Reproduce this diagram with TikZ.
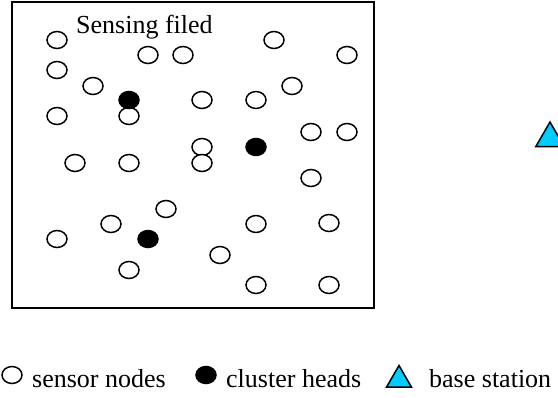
\documentclass[tikz,border=0pt]{standalone}
\usepackage{fontspec}
\setmainfont{Liberation Serif}
\usetikzlibrary{shapes.geometric}
\definecolor{bscyan}{RGB}{0,204,255}
\tikzset{
  sensor/.style={ellipse,draw=black,line width=1.5pt,fill=white,minimum width=20pt,minimum height=17pt,inner sep=0pt},
  head/.style={ellipse,draw=black,line width=1.5pt,fill=black,minimum width=20pt,minimum height=17pt,inner sep=0pt},
  bs/.style={regular polygon,regular polygon sides=3,draw=black,line width=1.5pt,fill=bscyan,inner sep=0pt},
  lbl/.style={anchor=base west,inner sep=0pt,font=\fontsize{26}{30}\selectfont},
  field/.style={draw=black,line width=1.6pt}
}
\begin{document}
\begin{tikzpicture}[x=1pt,y=-1pt]
\useasboundingbox (0,0) rectangle (558,398);
\draw[field] (12,2) rectangle (374,308);
\node[lbl] (title) at (76,34) {Sensing filed};
% sensor nodes
\node[sensor] (s1) at (57,40) {};
\node[sensor] (s2) at (148,55) {};
\node[sensor] (s3) at (183,55) {};
\node[sensor] (s4) at (57,70) {};
\node[sensor] (s5) at (93,86) {};
\node[sensor] (s6) at (57,116) {};
\node[sensor] (s7) at (129,116) {};
\node[sensor] (s8) at (202,100) {};
\node[sensor] (s9) at (256,100) {};
\node[sensor] (s10) at (274,40) {};
\node[sensor] (s11) at (347,55) {};
\node[sensor] (s12) at (292,86) {};
\node[sensor] (s13) at (311,132) {};
\node[sensor] (s14) at (347,132) {};
\node[sensor] (s15) at (202,147) {};
\node[sensor] (s16) at (202,163) {};
\node[sensor] (s17) at (75,163) {};
\node[sensor] (s18) at (129,163) {};
\node[sensor] (s19) at (311,178) {};
\node[sensor] (s20) at (166,209) {};
\node[sensor] (s21) at (111,224) {};
\node[sensor] (s22) at (57,239) {};
\node[sensor] (s23) at (256,224) {};
\node[sensor] (s24) at (329,223) {};
\node[sensor] (s25) at (220,255) {};
\node[sensor] (s26) at (129,270) {};
\node[sensor] (s27) at (256,285) {};
\node[sensor] (s28) at (329,285) {};
% cluster heads
\node[head] (h1) at (129,100) {};
\node[head] (h2) at (256,147) {};
\node[head] (h3) at (148,239) {};
% base station
\node[bs,minimum size=33pt] (bs) at (550,138.5) {};
% legend
\node[sensor] (lg1) at (12,375) {};
\node[lbl] (lt1) at (32,388) {sensor nodes};
\node[head] (lg2) at (206,375) {};
\node[lbl] (lt2) at (226,388) {cluster heads};
\node[bs,minimum size=29pt] (lg3) at (399,380) {};
\node[lbl] (lt3) at (429,388) {base station};
\end{tikzpicture}
\end{document}
